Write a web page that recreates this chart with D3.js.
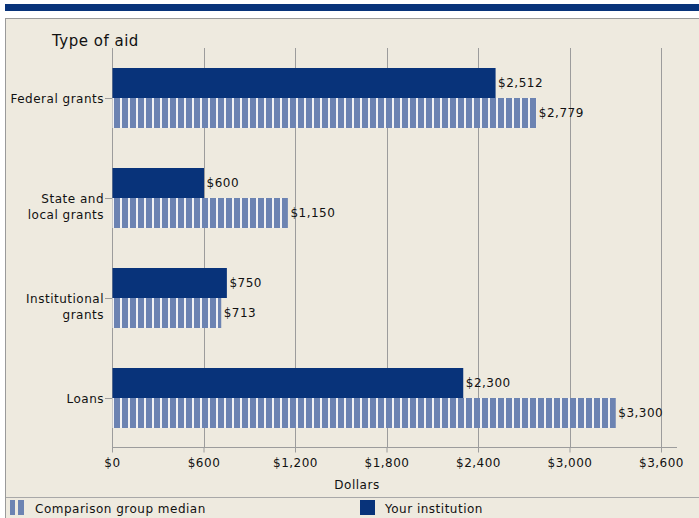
<!DOCTYPE html>
<html>
<head>
<meta charset="utf-8">
<script src="https://cdn.jsdelivr.net/npm/d3@7"></script>
<style>
  body { margin: 0; background: #fff; }
  svg text { font-family: "DejaVu Sans", Verdana, sans-serif; fill: #111; letter-spacing: 0.5px; }
</style>
</head>
<body>
<div id="chart"></div>
<script>
// Chart data
const categories = ["Federal grants", "State and\nlocal grants", "Institutional\ngrants", "Loans"];
const yourInstitution = [2512, 600, 750, 2300];
const comparisonMedian = [2779, 1150, 713, 3300];
const xTicks = [0, 600, 1200, 1800, 2400, 3000, 3600];
const seriesNames = ["Comparison group median", "Your institution"];

const navy = "#08337a";
const stripeBlue = "#6c83b2";
const fs = 12;

const width = 699, height = 518;
const svg = d3.select("#chart").append("svg")
  .attr("width", width)
  .attr("height", height);

// Pattern for the comparison bars
const defs = svg.append("defs");
const pat = defs.append("pattern")
  .attr("id", "stripes")
  .attr("patternUnits", "userSpaceOnUse")
  .attr("x", 112)
  .attr("width", 8)
  .attr("height", 8);
pat.append("rect").attr("width", 8).attr("height", 8).attr("fill", "#f2f2f4");
pat.append("rect").attr("x", 2).attr("width", 6).attr("height", 8).attr("fill", stripeBlue);

// Top rule and panel
svg.append("rect").attr("x", 5).attr("y", 4).attr("width", width - 5).attr("height", 7).attr("fill", navy);
svg.append("rect").attr("x", 5.5).attr("y", 18.5).attr("width", width).attr("height", height)
  .attr("fill", "#eeeadf").attr("stroke", "#9a9a9a");
svg.append("line").attr("x1", 6).attr("x2", width).attr("y1", 497.5).attr("y2", 497.5)
  .attr("stroke", "#a8a8a8");

// Scales
const x = d3.scaleLinear().domain([0, 3600]).range([112, 661]);
const y = d3.scaleBand().domain(d3.range(categories.length)).range([48, 448]);
const barH = 30;

// Grid lines
svg.append("g").selectAll("line").data(xTicks.slice(1)).join("line")
  .attr("x1", d => Math.round(x(d)) + 0.5).attr("x2", d => Math.round(x(d)) + 0.5)
  .attr("y1", 48).attr("y2", 447)
  .attr("stroke", "#9c9c9c");

// X axis
const xAxis = svg.append("g").attr("transform", "translate(0,447.5)")
  .call(d3.axisBottom(x).tickValues(xTicks).tickSize(5).tickSizeOuter(0)
    .tickFormat(d => "$" + d3.format(",")(d)));
xAxis.attr("font-family", null).attr("font-size", null);
xAxis.select(".domain").attr("d", "M112,0H677").attr("stroke", "#9c9c9c");
xAxis.selectAll(".tick line").attr("stroke", "#9c9c9c");
xAxis.selectAll(".tick text").attr("font-size", fs).attr("dy", 0).attr("y", 19);

// Y axis
svg.append("line").attr("x1", 112.5).attr("x2", 112.5).attr("y1", 48).attr("y2", 448)
  .attr("stroke", "#9c9c9c");
const yLab = svg.append("g").selectAll("g").data(categories).join("g")
  .attr("transform", (d, i) => `translate(0,${y(i) + y.bandwidth() / 2})`);
yLab.append("line").attr("x1", 105).attr("x2", 112).attr("y1", 0.5).attr("y2", 0.5)
  .attr("stroke", "#9c9c9c");
yLab.append("text")
  .attr("text-anchor", "end")
  .attr("font-size", fs)
  .selectAll("tspan").data(d => d.split("\n")).join("tspan")
  .attr("x", 104)
  .attr("y", (d, i) => 5 + i * 16)
  .text(d => d);

// Bars
const groups = svg.append("g").selectAll("g").data(categories).join("g")
  .attr("transform", (d, i) => `translate(0,${y(i) + y.bandwidth() / 2})`);

groups.append("rect")
  .attr("x", x(0) + 0.5)
  .attr("y", -barH)
  .attr("width", (d, i) => x(yourInstitution[i]) - x(0))
  .attr("height", barH)
  .attr("fill", navy);

groups.append("rect")
  .attr("x", x(0) + 0.5)
  .attr("y", 0)
  .attr("width", (d, i) => x(comparisonMedian[i]) - x(0))
  .attr("height", barH)
  .attr("fill", "url(#stripes)");

const fmt = v => "$" + d3.format(",")(v);
groups.append("text")
  .attr("x", (d, i) => x(yourInstitution[i]) + 3)
  .attr("y", -barH / 2 + 4)
  .attr("font-size", fs)
  .text((d, i) => fmt(yourInstitution[i]));
groups.append("text")
  .attr("x", (d, i) => x(comparisonMedian[i]) + 3)
  .attr("y", barH / 2 + 4)
  .attr("font-size", fs)
  .text((d, i) => fmt(comparisonMedian[i]));

// Titles
svg.append("text").attr("x", 52).attr("y", 46).attr("font-size", 15).attr("letter-spacing", 0)
  .text("Type of aid");
svg.append("text").attr("x", 357).attr("y", 489).attr("text-anchor", "middle")
  .attr("font-size", fs).text("Dollars");

// Legend
const leg1 = svg.append("g");
leg1.append("rect").attr("x", 10).attr("y", 500).attr("width", 5).attr("height", 15).attr("fill", stripeBlue);
leg1.append("rect").attr("x", 18).attr("y", 500).attr("width", 6).attr("height", 15).attr("fill", stripeBlue);
leg1.append("text").attr("x", 35).attr("y", 513).attr("font-size", fs).text(seriesNames[0]);

const leg2 = svg.append("g");
leg2.append("rect").attr("x", 360).attr("y", 500).attr("width", 15).attr("height", 15).attr("fill", navy);
leg2.append("text").attr("x", 385).attr("y", 513).attr("font-size", fs).text(seriesNames[1]);
</script>
</body>
</html>
